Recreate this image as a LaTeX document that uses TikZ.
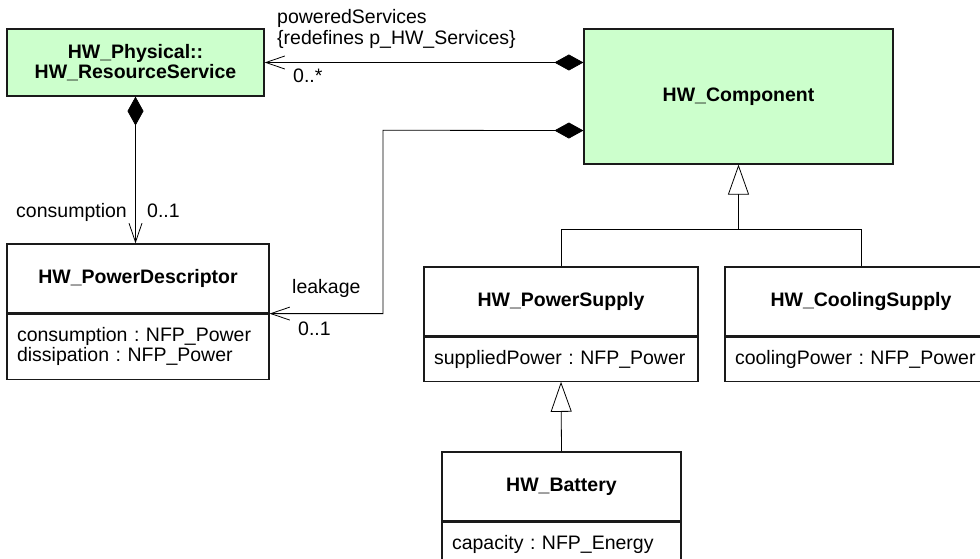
\documentclass[tikz,border=0pt]{standalone}
\usepackage{fontspec}
\setmainfont{Liberation Sans}
\usetikzlibrary{arrows.meta,calc}
\definecolor{paleGreen}{HTML}{CCFFCC}
\definecolor{lineGrey}{HTML}{1A1A1A}
\frenchspacing

\begin{document}
\begin{tikzpicture}[x=1pt,y=-1pt,font=\fontsize{19.5}{20.5}\selectfont,
  classbox/.style={draw=lineGrey,line width=1.2pt,inner sep=0pt,align=center,font=\fontsize{19.5}{20.5}\selectfont\bfseries},
  attrbox/.style={draw=lineGrey,line width=1.2pt,anchor=north,align=left,inner xsep=10pt,inner ysep=0pt},
  assoc/.style={line width=.8pt,{Diamond[length=29pt,width=16pt]}-{Straight Barb[length=19pt,width=13pt]}},
  generalize/.style={line width=.8pt,-{Triangle[open,length=30pt,width=21pt,fill=white]}},
  lbl/.style={inner sep=0pt}]
\useasboundingbox (0,0) rectangle (980,559);
\node[classbox,fill=paleGreen,minimum width=257pt,minimum height=67pt] (rs) at (135.5,62.5){HW\_Physical::\\HW\_ResourceService};
\node[classbox,fill=paleGreen,minimum width=309pt,minimum height=135pt] (comp) at (738.5,96.5){HW\_Component};
\node[classbox,minimum width=262pt,minimum height=69pt] (pd) at (138,278.5){HW\_PowerDescriptor};
\node[attrbox,text width=242pt,minimum height=65pt] (pdAttr) at (pd.south){consumption : NFP\_Power\\dissipation : NFP\_Power};
\node[classbox,minimum width=274pt,minimum height=69pt] (ps) at (561,301.5){HW\_PowerSupply};
\node[attrbox,text width=254pt,minimum height=44pt] (psAttr) at (ps.south){suppliedPower : NFP\_Power};
\node[classbox,minimum width=272pt,minimum height=69pt] (cs) at (861,301.5){HW\_CoolingSupply};
\node[attrbox,text width=252pt,minimum height=44pt] (csAttr) at (cs.south){coolingPower : NFP\_Power};
\node[classbox,minimum width=239pt,minimum height=69pt] (ba) at (561.5,486.5){HW\_Battery};
\node[attrbox,text width=219pt,minimum height=44pt] (baAttr) at (ba.south){capacity : NFP\_Energy};
\coordinate (compLeak) at ($(comp.south west)!.25!(comp.north west)$);
\coordinate (bendL) at (383,130.25);
\coordinate (genJoin) at (738.5,229);
\draw[assoc] (rs.east -| comp.west) -- (rs.east);
\draw[assoc] (rs.south) -- (rs.south |- pd.north);
\draw[assoc] (compLeak) -- (bendL) |- (pd.south east);
\draw[generalize] (ps.north) |- (genJoin) -- (comp.south);
\draw[line width=.8pt] (cs.north) |- (genJoin);
\draw[generalize] (ba.north) -- (psAttr.south);
\node[lbl,anchor=north west,align=left] (lblPowered) at (277,9.5){poweredServices\\\{redefines p\_HW\_Services\}};
\node[lbl,anchor=base west] (multPowered) at (293,83){0..*};
\node[lbl,anchor=base east] (lblConsumption) at (127,217){consumption};
\node[lbl,anchor=base west] (multConsumption) at (147,217){0..1};
\node[lbl,anchor=base west] (lblLeakage) at (292,293){leakage};
\node[lbl,anchor=base west] (multLeakage) at (298,335){0..1};
\end{tikzpicture}
\end{document}
